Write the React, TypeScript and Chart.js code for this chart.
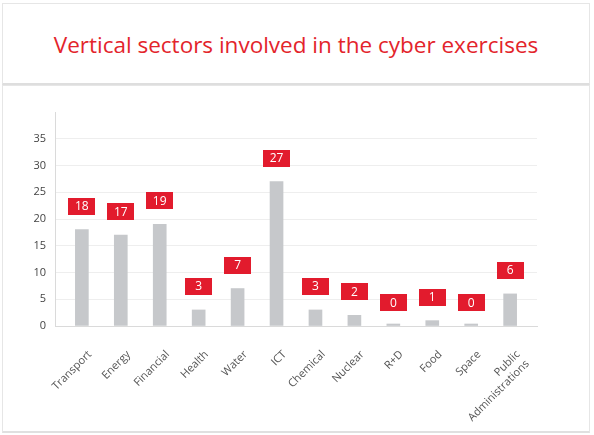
import React, { useEffect, useRef } from 'react';
import { Chart, registerables } from 'chart.js';

Chart.register(...registerables);

// Sectors and the number of cyber exercises that involved each one
const sectorLabels: (string | string[])[] = [
  'Transport', 'Energy', 'Financial', 'Health', 'Water', 'ICT',
  'Chemical', 'Nuclear', 'R+D', 'Food', 'Space', ['Public', 'Administrations'],
];
const exercises = [18, 17, 19, 3, 7, 27, 3, 2, 0, 1, 0, 6];
const yTicks = [0, 5, 10, 15, 20, 25, 30, 35];

const TITLE = 'Vertical sectors involved in the cyber exercises';
const RED = '#e21b2d';
const BAR_GREY = '#c6c8cb';

// Red value tags above every bar
const valueTags = {
  id: 'valueTags',
  afterDatasetsDraw(chart: any) {
    const { ctx } = chart;
    const y = chart.scales.y;
    const meta = chart.getDatasetMeta(0);
    const w = 27;
    const h = 17;
    ctx.save();
    ctx.font = '12px "Open Sans", sans-serif';
    ctx.textAlign = 'center';
    ctx.textBaseline = 'middle';
    meta.data.forEach((bar: any, i: number) => {
      const v = exercises[i];
      const bottom = y.getPixelForValue(v) - 15;
      ctx.fillStyle = RED;
      ctx.fillRect(Math.round(bar.x - w / 2), Math.round(bottom - h), w, h);
      ctx.fillStyle = '#ffffff';
      ctx.fillText(String(v), bar.x, Math.round(bottom - h / 2) + 1);
    });
    ctx.restore();
  },
};

function SectorChart() {
  const ref = useRef<HTMLCanvasElement | null>(null);

  useEffect(() => {
    if (!ref.current) return;
    const chart = new Chart(ref.current, {
      type: 'bar',
      data: {
        datasets: [
          {
            data: exercises.map((v, i) => ({ x: i, y: v })),
            backgroundColor: BAR_GREY,
            barThickness: 13,
            minBarLength: 2,
          },
        ],
      },
      options: {
        responsive: false,
        animation: false,
        devicePixelRatio: 1,
        layout: { padding: { left: 0, right: 52, top: 26, bottom: 0 } },
        plugins: {
          legend: { display: false },
          tooltip: { enabled: false },
          title: { display: false },
        },
        scales: {
          x: {
            type: 'linear',
            offset: false,
            min: -0.69,
            max: 11.69,
            afterBuildTicks: (s: any) => {
              s.ticks = sectorLabels.map((_, i) => ({ value: i }));
            },
            afterFit: (s: any) => {
              s.height = 104;
            },
            ticks: {
              autoSkip: false,
              minRotation: 45,
              maxRotation: 45,
              padding: 22,
              labelOffset: 8,
              color: '#555555',
              font: { family: '"Open Sans", sans-serif', size: 11 },
              callback: (v: any) => sectorLabels[v as number],
            },
            grid: { display: false, drawTicks: false },
            border: { display: true, color: '#dadada', width: 1 },
          },
          y: {
            min: 0,
            max: 40,
            afterBuildTicks: (s: any) => {
              s.ticks = yTicks.map((v) => ({ value: v }));
            },
            afterFit: (s: any) => {
              s.width = 52;
            },
            ticks: {
              padding: 9,
              color: '#444444',
              font: { family: '"Open Sans", sans-serif', size: 11 },
            },
            grid: { color: '#eeeeee', drawTicks: false },
            border: { display: true, color: '#dadada', width: 1 },
          },
        },
      },
      plugins: [valueTags],
    } as any);
    return () => chart.destroy();
  }, []);

  return <canvas ref={ref} width={586} height={344} style={{ display: 'block' }} />;
}

export default function App() {
  return (
    <div
      style={{
        position: 'fixed',
        left: 0,
        top: 0,
        width: 594,
        height: 435,
        background: '#ffffff',
        fontFamily: '"Open Sans", sans-serif',
      }}
    >
      <div
        style={{
          position: 'absolute',
          left: 2,
          top: 3,
          width: 588,
          height: 82,
          boxSizing: 'border-box',
          border: '1px solid #e6e6e6',
          borderBottom: '2px solid #dedede',
          display: 'flex',
          alignItems: 'center',
          justifyContent: 'center',
          color: '#e3242b',
          fontSize: 22.5,
          paddingTop: 2,
        }}
      >
        {TITLE}
      </div>
      <div
        style={{
          position: 'absolute',
          left: 2,
          top: 85,
          width: 588,
          height: 348,
          boxSizing: 'border-box',
          border: '1px solid #e6e6e6',
          borderBottom: '2px solid #e0e0e0',
        }}
      >
        <SectorChart />
      </div>
    </div>
  );
}
